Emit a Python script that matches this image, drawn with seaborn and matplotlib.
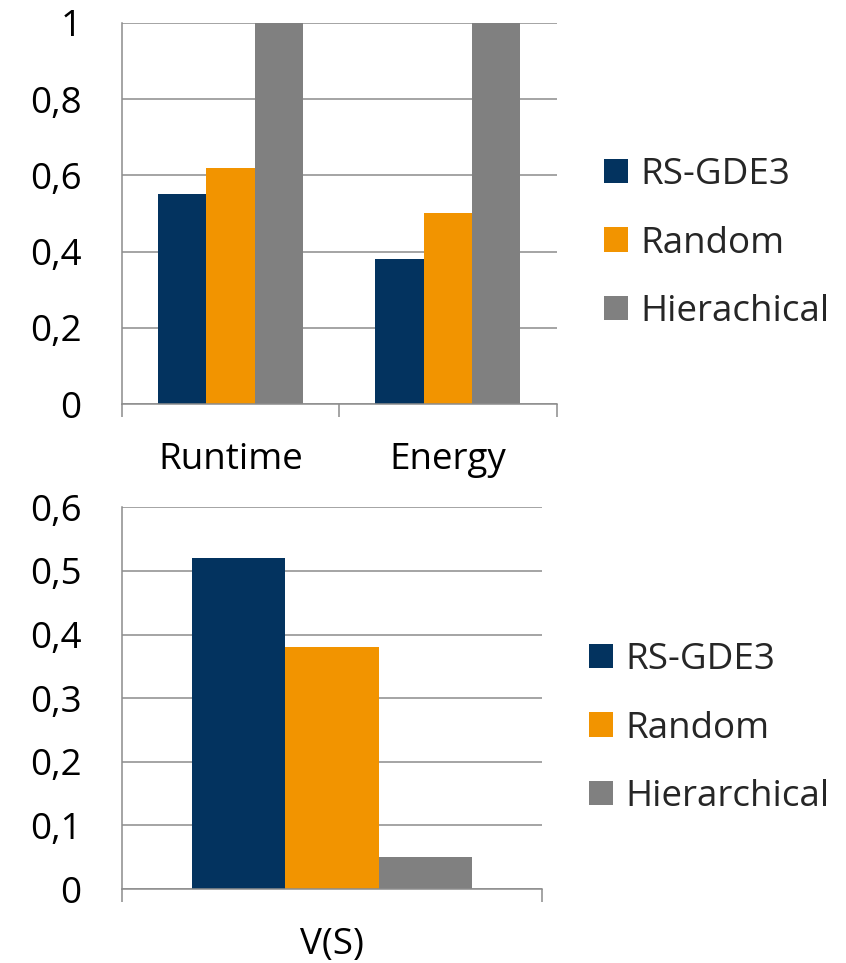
import matplotlib
matplotlib.use("Agg")
import matplotlib.pyplot as plt
import numpy as np
import pandas as pd
import seaborn as sns
from matplotlib.ticker import FixedLocator

# Upper panel: normalised runtime and energy
metrics_top = ["Runtime", "Energy"]
methods_top = ["RS-GDE3", "Random", "Hierachical"]
runtime_vals = [0.55, 0.62, 1.0]
energy_vals = [0.38, 0.50, 1.0]
top_yticks = [0.0, 0.2, 0.4, 0.6, 0.8, 1.0]
top_ytick_labels = ["0", "0,2", "0,4", "0,6", "0,8", "1"]

# Lower panel: V(S)
metrics_bottom = ["V(S)"]
methods_bottom = ["RS-GDE3", "Random", "Hierarchical"]
vs_vals = [0.52, 0.38, 0.05]
bottom_yticks = [0.0, 0.1, 0.2, 0.3, 0.4, 0.5, 0.6]
bottom_ytick_labels = ["0", "0,1", "0,2", "0,3", "0,4", "0,5", "0,6"]

colors = ["#03335F", "#F29400", "#808080"]
grid_c = "#8C8C8C"
FS = 26.5

sns.set_theme(style="white")
plt.rcParams["font.family"] = ["Open Sans", "DejaVu Sans"]

df_top = pd.DataFrame({
    "metric": np.repeat(metrics_top, len(methods_top)),
    "method": methods_top * len(metrics_top),
    "value": runtime_vals + energy_vals,
})
df_bottom = pd.DataFrame({
    "metric": metrics_bottom * len(methods_bottom),
    "method": methods_bottom,
    "value": vs_vals,
})

fig = plt.figure(figsize=(8.46, 9.63), dpi=100)
ax1 = fig.add_axes([0.1439, 0.5802, 0.5141, 0.3962])
ax2 = fig.add_axes([0.1439, 0.0768, 0.4970, 0.3964])


def draw_panel(ax, df, yticks, ylabels, ymax, legend_anchor):
    sns.barplot(data=df, x="metric", y="value", hue="method",
                palette=colors, width=2 / 3, saturation=1,
                linewidth=0, errorbar=None, ax=ax)
    n = df["metric"].nunique()
    ax.set_xlim(-0.5, n - 0.5)
    ax.set_ylim(0, ymax)
    ax.set_yticks(yticks, ylabels)
    ax.set_xlabel("")
    ax.set_ylabel("")
    ax.set_axisbelow(True)
    ax.yaxis.grid(True, color=grid_c, linewidth=1.1)
    ax.xaxis.grid(False)
    for side in ("top", "right"):
        ax.spines[side].set_visible(False)
    for side in ("left", "bottom"):
        ax.spines[side].set_color(grid_c)
        ax.spines[side].set_linewidth(1.1)
    ax.tick_params(axis="y", length=10, width=1.1, color=grid_c,
                   pad=19, labelsize=FS, labelcolor="black")
    ax.tick_params(axis="x", which="major", length=0, pad=27,
                   labelsize=FS, labelcolor="black")
    ax.xaxis.set_minor_locator(FixedLocator(np.arange(-0.5, n, 1.0)))
    ax.tick_params(axis="x", which="minor", length=9, width=1.1,
                   color=grid_c, bottom=True)
    handles, labels = ax.get_legend_handles_labels()
    ax.legend(handles, labels, loc="center left",
              bbox_to_anchor=legend_anchor, bbox_transform=fig.transFigure,
              frameon=False, fontsize=FS, handlelength=0.65,
              handleheight=0.65, handletextpad=0.34, labelspacing=0.88,
              borderpad=0, borderaxespad=0)


draw_panel(ax1, df_top, top_yticks, top_ytick_labels, 1.0,
           (604 / 846, 1 - 243.5 / 963))
draw_panel(ax2, df_bottom, bottom_yticks, bottom_ytick_labels, 0.6,
           (589 / 846, 1 - 728.5 / 963))

fig.savefig("out.png", dpi=100)
